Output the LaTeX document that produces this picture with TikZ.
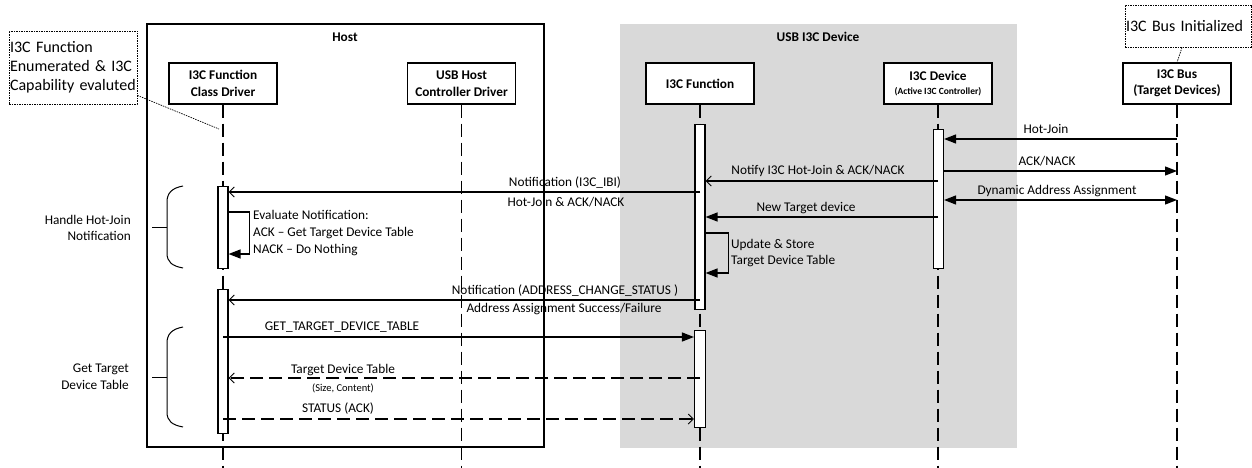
\documentclass[tikz,border=0pt]{standalone}
\usepackage{fontspec}
\setmainfont{Carlito}
\usetikzlibrary{arrows.meta,calc}

\begin{document}
\begin{tikzpicture}[x=1pt,y=-1pt,
  hdr/.style={draw,line width=1.3pt,fill=white,minimum width=108pt,minimum height=41pt,
    align=center,font=\bfseries\fontsize{13.3}{16.5}\selectfont,inner sep=1pt},
  life/.style={line width=1.4pt,dash pattern=on 13pt off 6pt},
  bar/.style={draw,fill=white,line width=1.1pt,minimum width=10pt,inner sep=0pt,anchor=north},
  msg/.style={line width=1.2pt},
  ftip/.style={-{Triangle[length=12pt,width=9pt]}},
  otip/.style={-{Straight Barb[length=5pt,width=10pt,line width=1pt]}},
  retdash/.style={dash pattern=on 13pt off 6pt},
  lbl/.style={font=\fontsize{13.3}{16.5}\selectfont,inner sep=0pt},
  tiny/.style={font=\fontsize{10.5}{12}\selectfont,inner sep=0pt},
  note/.style={draw,line width=0.8pt,dash pattern=on 1.5pt off 1pt,align=left,
    font=\fontsize{16}{19}\selectfont,inner sep=1pt},
  lead/.style={line width=0.7pt,dash pattern=on 1.5pt off 1pt},
  brace/.style={line width=1pt},
  grp/.style={font=\bfseries\fontsize{13.3}{16}\selectfont,inner sep=0pt},
]
\useasboundingbox (0,0) rectangle (1252,468);

% system boundaries
\fill[gray!30] (620,24) rectangle (1017,448);
\draw[line width=1.5pt] (147,24) rectangle (544,447);
\node[grp] (hostlbl) at (345,37) {Host};
\node[grp] (devlbl) at (818,37) {USB I3C Device};

% participants
\node[hdr] (cd)  at (223,83.5) {I3C Function\\Class Driver};
\node[hdr] (hcd) at (461.5,83.5) {USB Host\\Controller Driver};
\node[hdr] (fn)  at (700,83.5) {I3C Function};
\node[hdr] (dev) at (938,83.5) {I3C Device\\[-2pt]{\fontsize{9.5}{11}\selectfont (Active I3C Controller)}};
\node[hdr] (bus) at (1177,83.5) {I3C Bus\\(Target Devices)};

% lifelines
\coordinate (bottom) at (0,468);
\foreach \p in {cd,hcd,fn,dev,bus}
  \draw[life] (\p.south) -- (\p.south |- bottom);

% activation bars
\node[bar,minimum height=82pt]  (bCD1) at (223,186) {};
\node[bar,minimum height=144pt] (bCD2) at (223,289) {};
\node[bar,minimum height=185pt] (bFn1) at (700,124) {};
\node[bar,minimum height=97pt,minimum width=11pt] (bFn2) at (700,330) {};
\node[bar,minimum height=139pt] (bDev) at (938.5,129) {};

% message levels
\coordinate (mHJ)  at (0,139);
\coordinate (mAck) at (0,171);
\coordinate (mNot) at (0,181);
\coordinate (mIbi) at (0,192);
\coordinate (mDyn) at (0,200);
\coordinate (mEv1) at (0,212);
\coordinate (mEv2) at (0,254);
\coordinate (mNew) at (0,217);
\coordinate (mUp1) at (0,233);
\coordinate (mUp2) at (0,273);
\coordinate (mAdr) at (0,300);
\coordinate (mGet) at (0,337);
\coordinate (mTbl) at (0,378);
\coordinate (mSt)  at (0,419);

% bus side
\draw[msg,ftip] (bus |- mHJ) -- (bDev.east |- mHJ);
\node[lbl] (tHJ) at (1046,129) {Hot-Join};
\draw[msg,ftip] (bDev.east |- mAck) -- (bus |- mAck);
\node[lbl] (tAck) at (1047,161) {ACK/NACK};
\draw[msg,{Triangle[length=12pt,width=9pt]}-{Triangle[length=12pt,width=9pt]}]
  (bDev.east |- mDyn) -- (bus |- mDyn);
\node[lbl] (tDyn) at (1057,191) {Dynamic Address Assignment};

% device to function
\draw[msg,otip] (dev |- mNot) -- (bFn1.east |- mNot);
\node[lbl] (tNot) at (818,171) {Notify I3C Hot-Join \& ACK/NACK};
\draw[msg,ftip] (dev |- mNew) -- (bFn1.east |- mNew);
\node[lbl] (tNew) at (806,208) {New Target device};
\draw[msg,ftip] (bFn1.east |- mUp1) -- ++(23,0) |- (bFn1.east |- mUp2);
\node[lbl,anchor=west,align=left,font=\fontsize{13.3}{16}\selectfont] (tUp) at (731,253)
  {Update \& Store\\Target Device Table};

% function to class driver
\draw[msg,otip] (fn |- mIbi) -- (bCD1.east |- mIbi);
\node[lbl] (tIbi1) at (565,183) {Notification (I3C\_IBI)};
\node[lbl] (tIbi2) at (566,202) {Hot-Join \& ACK/NACK};
\draw[msg,ftip] (bCD1.east |- mEv1) -- ++(21,0) |- (bCD1.east |- mEv2);
\node[lbl,anchor=west,align=left,font=\fontsize{13.3}{16.8}\selectfont] (tEv) at (253,233)
  {Evaluate Notification:\\ACK -- Get Target Device Table\\NACK -- Do Nothing};

\draw[msg,otip] (fn |- mAdr) -- (bCD2.east |- mAdr);
\node[lbl] (tAdr1) at (565,291) {Notification (ADDRESS\_CHANGE\_STATUS )};
\node[lbl] (tAdr2) at (564,309) {Address Assignment Success/Failure};

\draw[msg,ftip] (cd |- mGet) -- (bFn2.west |- mGet);
\node[lbl] (tGet) at (342,327) {GET\_TARGET\_DEVICE\_TABLE};
\draw[msg,retdash,otip] (fn |- mTbl) -- (bCD2.east |- mTbl);
\node[lbl] (tTbl) at (343,370) {Target Device Table};
\node[tiny] (tTbl2) at (343,388) {(Size, Content)};
\draw[msg,retdash,otip] (cd |- mSt) -- (bFn2.west |- mSt);
\node[lbl] (tSt) at (338,409) {STATUS (ACK)};

% phase braces
\draw[brace] (183,186) .. controls (172,188) and (167,193) .. (167,202) -- (167,253)
  .. controls (167,262) and (172,266) .. (183,268);
\draw[brace] (152,227) -- (167,227);
\node[lbl,anchor=east,align=right,font=\fontsize{13.3}{16}\selectfont] (tHH) at (131,228)
  {Handle Hot-Join\\Notification};
\draw[brace] (183,327) .. controls (172,329) and (167,334) .. (167,343) -- (167,412)
  .. controls (167,421) and (172,425) .. (183,427);
\draw[brace] (152,377) -- (167,377);
\node[lbl,anchor=east,align=right,font=\fontsize{13.3}{17}\selectfont] (tGT) at (129,377)
  {Get Target\\Device Table};

% annotations
\node[note,minimum width=128pt,minimum height=73pt,text width=126pt] (noteL) at (73,67.5)
  {I3C Function\\Enumerated \& I3C\\Capability evaluted};
\coordinate (noteLend) at (219,129);
\draw[lead] ([yshift=9pt]noteL.south east) -- (noteLend);
\node[note,minimum width=126pt,minimum height=42pt,text width=124pt] (noteB) at (1188,26)
  {I3C Bus Initialized};
\draw[lead] ([xshift=-6pt]noteB.south) -- (bus.north);
\end{tikzpicture}
\end{document}
